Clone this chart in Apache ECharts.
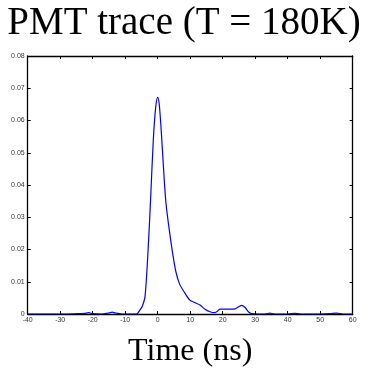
<!DOCTYPE html>
<html>
<head>
<meta charset="utf-8">
<script src="https://cdn.jsdelivr.net/npm/echarts@6/dist/echarts.min.js"></script>
<style>html,body{margin:0;padding:0;background:#fff}#c{width:368px;height:368px}</style>
</head>
<body>
<div id="c"></div>
<script>
var titleText = "PMT trace (T = 180K)";
var xAxisTitle = "Time (ns)";
var timeNs = [-40,-35,-30,-25,-22.5,-21.2,-20,-17,-15,-14,-13,-11,-8,-6.5,-5.5,-4.7,-3.9,-2.9,-2.15,-1.35,-0.6,0,0.5,1.2,1.95,2.55,3.57,4.6,5.6,6.65,8.1,9.9,11.5,13,14.55,16.1,17.3,18.3,19.2,22.2,23.8,24.8,25.85,26.9,27.9,28.9,31,33,34.5,36,40,42.2,44,50,53,55,57,60];
var signal = [0,0,0,0.0001,0.0002,0.0004,0.0001,0,0.0003,0.0006,0.0003,0,0,0,0.0012,0.0025,0.0054,0.0209,0.0364,0.054,0.0643,0.0672,0.0648,0.055,0.0426,0.0343,0.026,0.0188,0.0131,0.0095,0.0069,0.0043,0.0035,0.0028,0.0015,0.0007,0.0004,0.0008,0.0015,0.0015,0.0016,0.0022,0.0027,0.002,0.0007,0.0001,0,0,0.0003,0,0,0.0002,0,0,0.0001,0.0003,0,0];
var xTicks = [-40,-30,-20,-10,0,10,20,30,40,50,60];
var yTicks = [0,0.01,0.02,0.03,0.04,0.05,0.06,0.07,0.08];

var chart = echarts.init(document.getElementById('c'), null, {renderer:'canvas'});
var pts = timeNs.map(function(t,i){return [t, signal[i]];});
var tickLab = {fontSize:7, color:'#333', fontFamily:'Liberation Sans'};
chart.setOption({
  animation:false,
  backgroundColor:'#fff',
  title:{text:titleText, left:'center', top:-1, textStyle:{fontFamily:'Liberation Serif', fontSize:39, fontWeight:'normal', color:'#000'}},
  grid:{left:27.7, right:15.3, top:56, bottom:54, containLabel:false, outerBoundsMode:'none'},
  xAxis:[{
    type:'value', min:xTicks[0], max:xTicks[xTicks.length-1], interval:10,
    name:xAxisTitle, nameLocation:'middle', nameGap:22,
    nameTextStyle:{fontFamily:'Liberation Serif', fontSize:32, color:'#000', verticalAlign:'top'},
    axisLine:{onZero:false, lineStyle:{color:'#000', width:1.3}},
    axisTick:{inside:true, length:3, lineStyle:{color:'#000'}},
    axisLabel:Object.assign({margin:3}, tickLab),
    splitLine:{show:false}
  },{
    type:'value', position:'top', min:xTicks[0], max:xTicks[xTicks.length-1], interval:10,
    axisLine:{onZero:false, lineStyle:{color:'#000', width:1.3}},
    axisTick:{inside:true, length:3, lineStyle:{color:'#000'}},
    axisLabel:{show:false}, splitLine:{show:false}
  }],
  yAxis:[{
    type:'value', min:yTicks[0], max:yTicks[yTicks.length-1], interval:0.01,
    axisLine:{show:true, onZero:false, lineStyle:{color:'#000', width:1.3}},
    axisTick:{show:true, inside:true, length:3, lineStyle:{color:'#000'}},
    axisLabel:Object.assign({margin:3, formatter:function(v){return String(Math.round(v*100)/100);}}, tickLab),
    splitLine:{show:false}
  },{
    type:'value', position:'right', min:yTicks[0], max:yTicks[yTicks.length-1], interval:0.01,
    axisLine:{show:true, onZero:false, lineStyle:{color:'#000', width:1.3}},
    axisTick:{show:true, inside:true, length:3, lineStyle:{color:'#000'}},
    axisLabel:{show:false}, splitLine:{show:false}
  }],
  series:[{
    type:'line', data:pts, smooth:0.3, showSymbol:false, symbol:'none',
    lineStyle:{color:'#0000ff', width:1.2}, clip:true
  }]
});
</script>
</body>
</html>
